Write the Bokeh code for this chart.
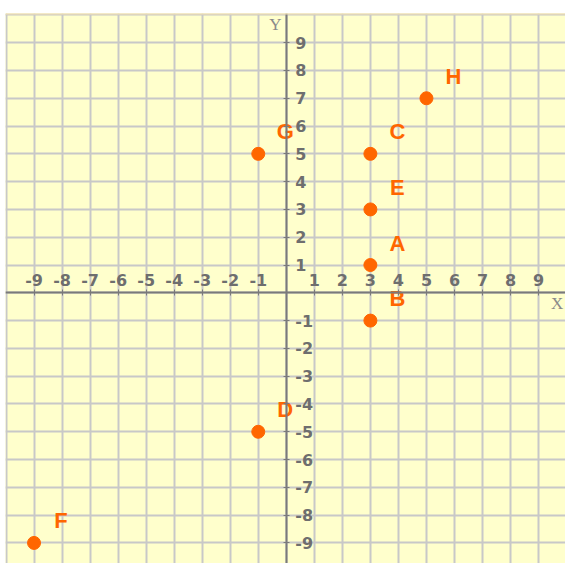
from bokeh.plotting import figure
from bokeh.models import LinearAxis, FixedTicker, Range1d, Label, Grid, ColumnDataSource, Span
from bokeh.core.properties import value
from bokeh.embed import file_html
from bokeh.resources import INLINE

# ---- data ----
point_names = ["A", "B", "C", "D", "E", "F", "G", "H"]
point_x = [3, 3, 3, -1, 3, -9, -1, 5]
point_y = [1, -1, 5, -5, 3, -9, 5, 7]
x_ticks = [-9, -8, -7, -6, -5, -4, -3, -2, -1, 1, 2, 3, 4, 5, 6, 7, 8, 9]
y_ticks = [-9, -8, -7, -6, -5, -4, -3, -2, -1, 1, 2, 3, 4, 5, 6, 7, 8, 9]
x_tick_labels = [str(t) for t in x_ticks]
y_tick_labels = [str(t) for t in y_ticks]
grid_ticks = list(range(-10, 11))

ORANGE = "#FF6600"
GRID = "#C8C8C8"
AXIS = "#7A7A7A"
LABEL = "#6E6E6E"

y_top = 10.05
p = figure(width=565, height=563,
           x_range=Range1d(-10.018, 9.961), y_range=Range1d(-9.74, y_top),
           x_axis_type=None, y_axis_type=None,
           output_backend="svg", toolbar_location=None,
           min_border_left=5, min_border_right=0, min_border_top=13, min_border_bottom=0,
           background_fill_color="#FFFFCC", border_fill_color="white",
           outline_line_color=None)

p.add_layout(Grid(dimension=0, ticker=FixedTicker(ticks=grid_ticks),
                  grid_line_color=GRID, grid_line_width=2), "center")
p.add_layout(Grid(dimension=1, ticker=FixedTicker(ticks=grid_ticks),
                  grid_line_color=GRID, grid_line_width=2), "center")
p.add_layout(Span(location=y_top, dimension="width", line_color="#F6E2B0", line_width=2))

common = dict(axis_line_color=AXIS, axis_line_width=2,
              major_tick_line_color=AXIS, major_tick_line_width=1,
              major_tick_in=3, major_tick_out=3,
              minor_tick_line_color=None,
              major_label_text_font="DejaVu Sans",
              major_label_text_font_style="bold",
              major_label_text_font_size="16px",
              major_label_text_color=LABEL)

xaxis = LinearAxis(fixed_location=0, ticker=FixedTicker(ticks=x_ticks),
                   major_label_overrides=dict(zip(x_ticks, x_tick_labels)),
                   major_label_standoff=4, **common)
p.add_layout(xaxis, "above")
yaxis = LinearAxis(fixed_location=0, ticker=FixedTicker(ticks=y_ticks),
                   major_label_overrides=dict(zip(y_ticks, y_tick_labels)),
                   major_label_standoff=6, **common)
p.add_layout(yaxis, "right")

src = ColumnDataSource(dict(x=point_x, y=point_y, name=point_names))
p.scatter("x", "y", source=src, size=13, color=ORANGE)
p.text("x", "y", text="name", source=src, x_offset=27, y_offset=-22,
       text_align="center", text_baseline="middle",
       text_font=value("Liberation Sans"), text_font_style="bold",
       text_font_size="22px", text_color=ORANGE)

p.add_layout(Label(x=9.66, y=-0.37, text="X", text_align="center", text_baseline="middle",
                   text_font="Liberation Serif", text_font_size="17px", text_color="#8A8A8A"))
p.add_layout(Label(x=-0.385, y=9.65, text="Y", text_align="center", text_baseline="middle",
                   text_font="Liberation Serif", text_font_size="17px", text_color="#8A8A8A"))

open("out.html", "w").write(file_html(p, INLINE))
